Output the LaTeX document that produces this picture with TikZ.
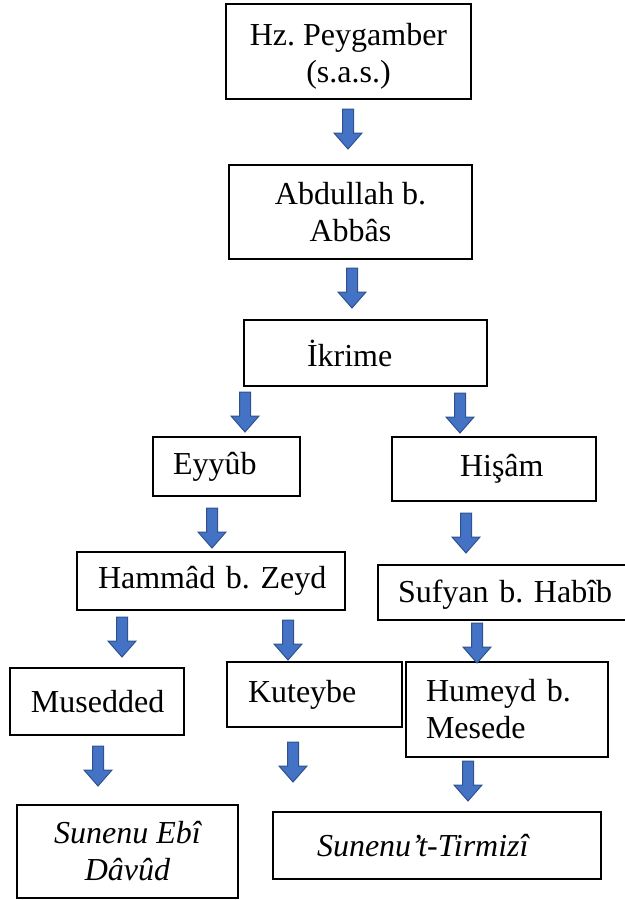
\documentclass[tikz,border=0pt]{standalone}
\usepackage{fontspec}
\setmainfont{Liberation Serif}
\definecolor{arrowblue}{HTML}{4472C4}
\definecolor{arrowedge}{HTML}{2F528F}
\begin{document}
\frenchspacing
\begin{tikzpicture}[x=0.75pt,y=-0.75pt,
  box/.style n args={3}{draw, line width=1pt, inner sep=0pt,
    minimum width=#1*0.75pt, minimum height=#2*0.75pt,
    text width=(#1-2*#3)*0.75pt, align=left,
    font=\fontsize{24}{27.75}\selectfont\frenchspacing},
  cbox/.style 2 args={draw, line width=1pt, inner sep=0pt,
    minimum width=#1*0.75pt, minimum height=#2*0.75pt, align=center,
    font=\fontsize{24}{27.75}\selectfont\frenchspacing},
  ital/.style={font=\fontsize{24}{27.75}\selectfont\itshape\frenchspacing},
  arrowstyle/.style={fill=arrowblue, draw=arrowedge, line width=0.75pt, line join=miter},
  barrow/.pic={\path[arrowstyle] (-5.5,0) -- (5.5,0) -- (5.5,24) -- (14,24) -- (0,40) -- (-14,24) -- (-5.5,24) -- cycle;}
]
\useasboundingbox (0,0) rectangle (625,900);
\clip (0,0) rectangle (625,900);
% boxes
\node[cbox={245}{95}] (hz) at (348.5,51.5) {\rule{0pt}{24pt}Hz. Peygamber\\(s.a.s.)};
\node[cbox={243}{94}] (ab) at (350.5,212) {Abdullah b.\\Abbâs};
\node[box={243}{66}{63}] (ik) at (365.5,353) {\mbox{İkrime}};
\node[box={147}{59}{20}] (ey) at (226.5,466.5) {\mbox{Eyyûb}};
\node[box={204}{64}{68}] (hi) at (494,469) {\mbox{Hişâm}};
\node[box={268}{58}{21}] (ha) at (211,581) {\mbox{Hammâd b. Zeyd}};
\node[box={252}{55}{20}] (su) at (504,592.5) {\mbox{\rule{0pt}{20pt}Sufyan b. Habîb}};
\node[box={174}{67}{21}] (mu) at (97,701.5) {\mbox{Musedded}};
\node[box={175}{65}{21}] (ku) at (314.5,694.5) {\mbox{Kuteybe}};
\node[box={202}{95}{20}] (hu) at (507,709.5) {Humeyd b.\\Mesede};
\node[cbox={221}{93}, ital] (sd) at (127.5,851.5) {Sunenu Ebî\\Dâvûd};
\node[box={328}{67}{44}, ital] (st) at (437,845.5) {\mbox{Sunenu’t-Tirmizî}};
% block arrows
\pic (a1) at (348,109) {barrow};
\pic (a2) at (352,268) {barrow};
\pic (a3) at (245,392) {barrow};
\pic (a4) at (460,393) {barrow};
\pic (a5) at (212,508) {barrow};
\pic (a6) at (466,513) {barrow};
\pic (a7) at (122,617) {barrow};
\pic (a8) at (288,620) {barrow};
\pic (a9) at (477,623) {barrow};
\pic (a10) at (98,746) {barrow};
\pic (a11) at (293,742) {barrow};
\pic (a12) at (468,761) {barrow};
\end{tikzpicture}
\end{document}
